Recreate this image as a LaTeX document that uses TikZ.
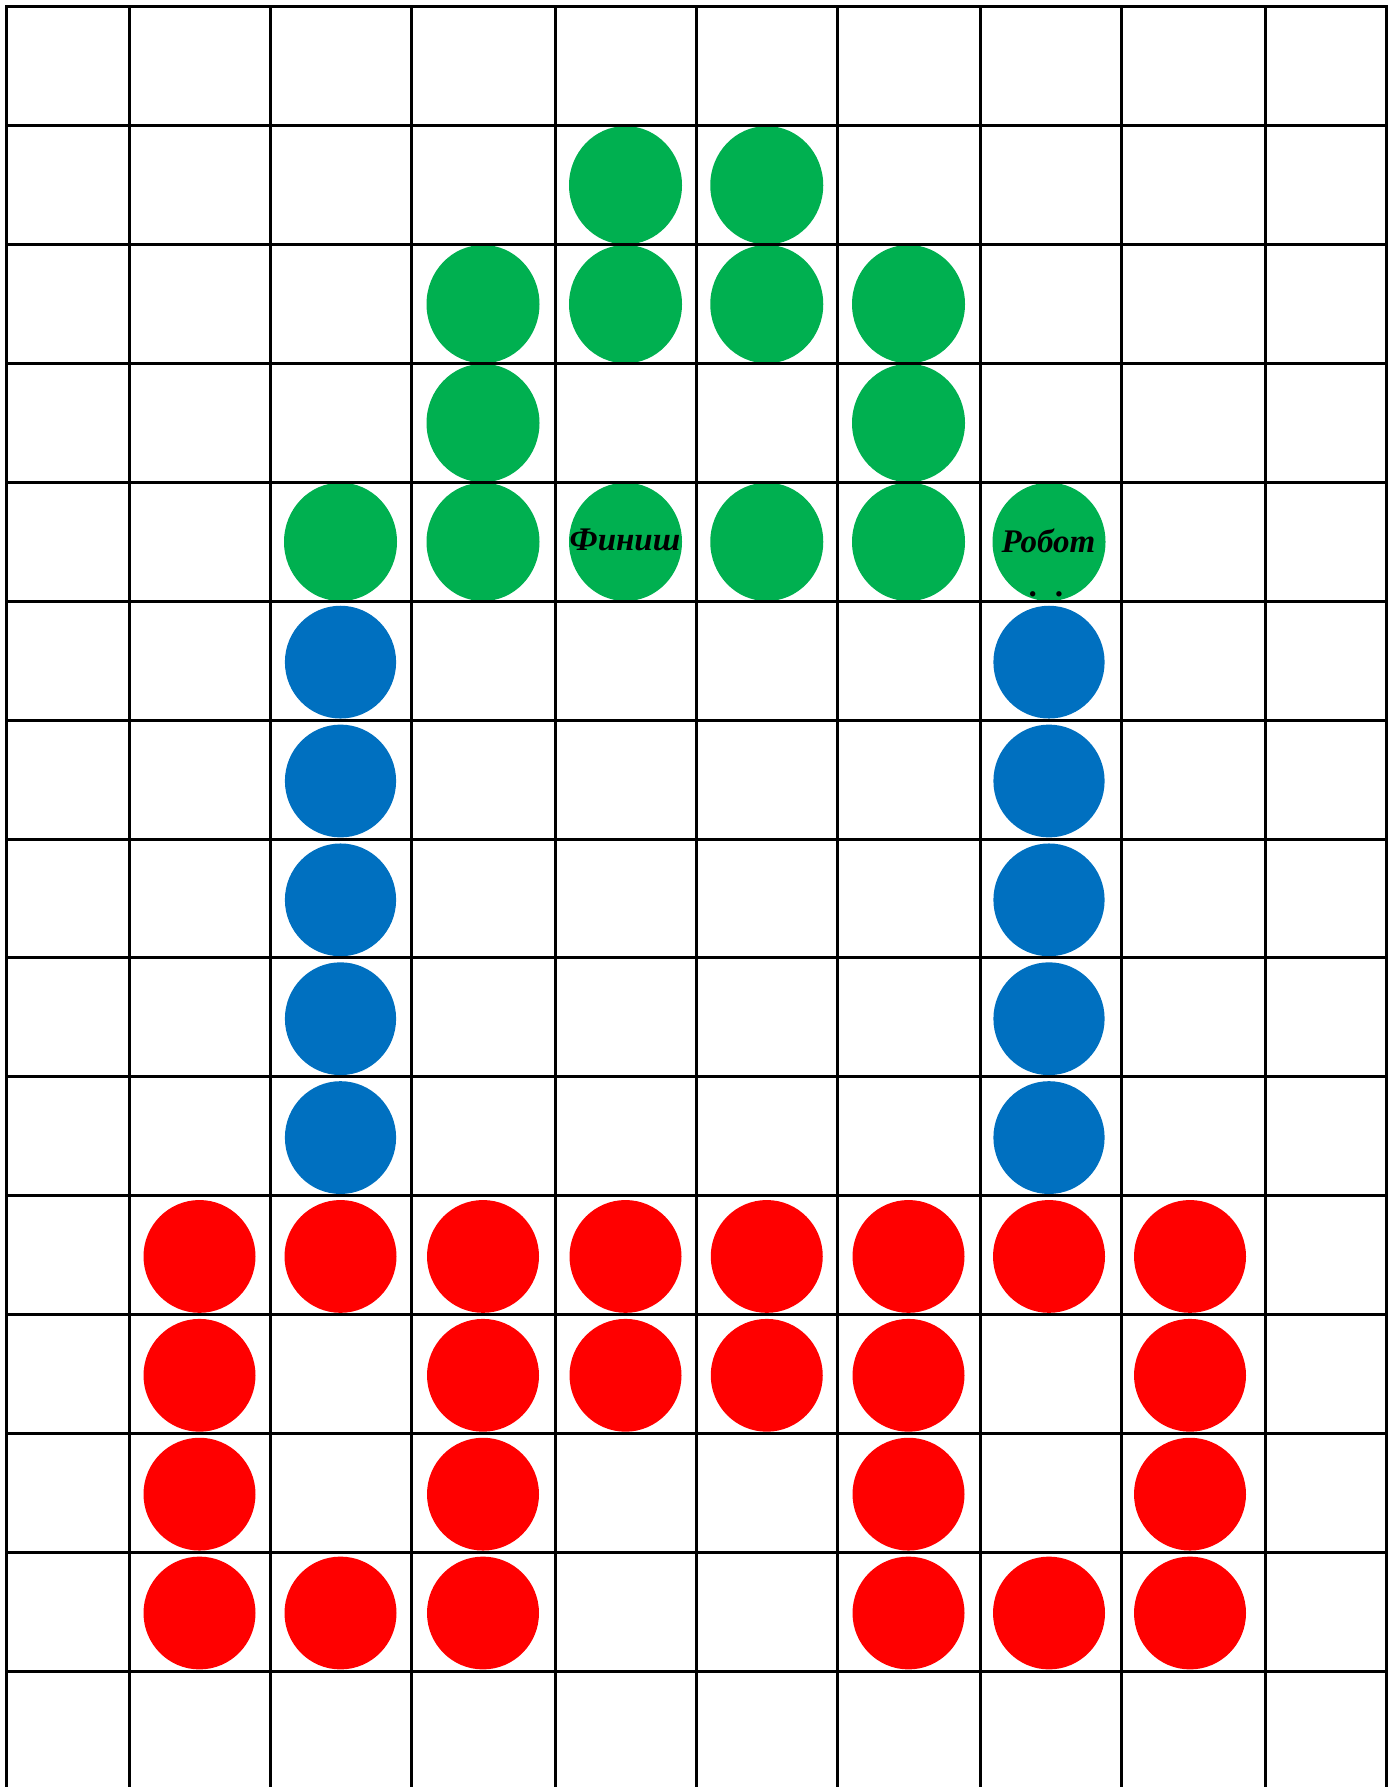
\documentclass[tikz,border=0pt]{standalone}
\usepackage{fontspec}
\setmainfont{Liberation Serif}
\definecolor{gc}{HTML}{00B050}
\definecolor{bc}{HTML}{0070C0}
\definecolor{rc}{HTML}{FF0000}
\tikzset{
  gridline/.style={line width=1.5pt, black, line cap=rect},
  lbl/.style={font=\fontsize{16.5}{18}\selectfont\bfseries\itshape, inner sep=0pt, text=black},
}
\begin{document}
\begin{tikzpicture}[x=0.5pt,y=-0.5pt]
\useasboundingbox (0,0) rectangle (1398,1787);
% green circles (cell centred)
\foreach \c/\r in {4/1,5/1,3/2,4/2,5/2,6/2,3/3,6/3,2/4,3/4,4/4,5/4,6/4,7/4}{
  \pgfmathsetmacro\xx{{67.5,199.5,340.5,483,625.5,766.75,908.5,1049,1190,1325.5}[\c]}
  \pgfmathsetmacro\yy{7+118.857*(\r+0.5)}
  \fill[gc] (\xx,\yy) ellipse [x radius=28.25pt, y radius=29.6pt];
}
% blue circles
\foreach \c/\r in {2/5,2/6,2/7,2/8,2/9,7/5,7/6,7/7,7/8,7/9}{
  \pgfmathsetmacro\xx{{67.5,199.5,340.5,483,625.5,766.75,908.5,1049,1190,1325.5}[\c]}
  \pgfmathsetmacro\yy{7+118.857*(\r+1)-58}
  \fill[bc] (\xx,\yy) ellipse [x radius=27.8pt, y radius=28.2pt];
}
% red circles
\foreach \c/\r in {1/10,2/10,3/10,4/10,5/10,6/10,7/10,8/10,
                   1/11,3/11,4/11,5/11,6/11,8/11,
                   1/12,3/12,6/12,8/12,
                   1/13,2/13,3/13,6/13,7/13,8/13}{
  \pgfmathsetmacro\xx{{67.5,199.5,340.5,483,625.5,766.75,908.5,1049,1190,1325.5}[\c]}
  \pgfmathsetmacro\yy{7+118.857*(\r+1)-58}
  \fill[rc] (\xx,\yy) ellipse [x radius=28pt, y radius=28.2pt];
}
% grid
\foreach \x in {6,129,270,411.5,555,696,837.5,980,1121.5,1265,1386}
  \draw[gridline] (\x,7) -- (\x,1787);
\foreach \i in {0,...,14}
  \draw[gridline] (6,{7+118.857*\i}) -- (1386,{7+118.857*\i});
% labels
\node[lbl, anchor=base] (fin) at (625,550) {Финиш};
\node[lbl, anchor=base] (rob) at (1048.5,552) {Робот};
\node[lbl, anchor=base] (dots) at (1047,596) {.\hspace{9pt}.};
\end{tikzpicture}
\end{document}
